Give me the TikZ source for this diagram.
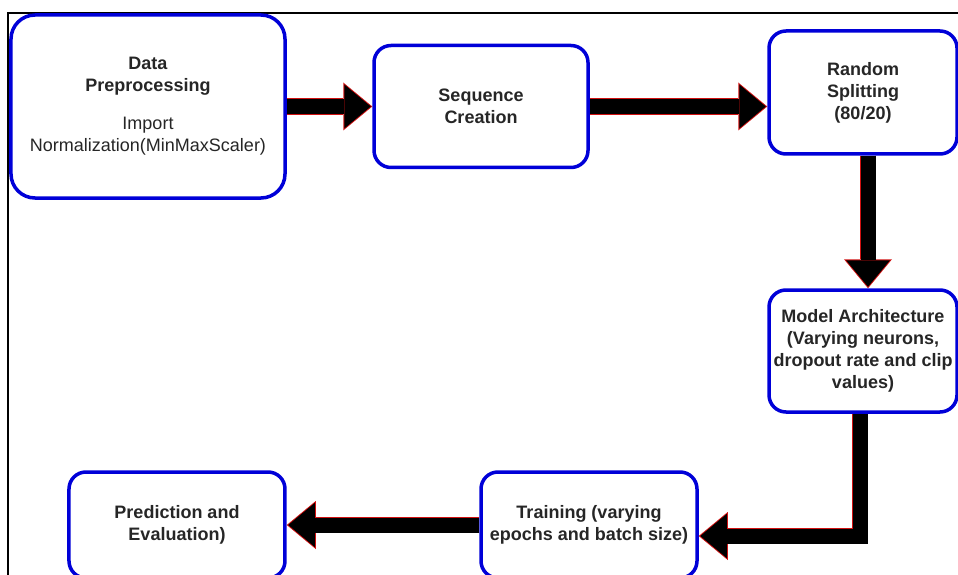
\documentclass[tikz,border=0pt]{standalone}
\usepackage{fontspec}
\setmainfont{Liberation Sans}
\usetikzlibrary{arrows.meta,positioning}
\definecolor{ink}{HTML}{262626}
\definecolor{stepblue}{HTML}{0000D8}
\definecolor{rimred}{HTML}{D01010}

\begin{document}
\begin{tikzpicture}[x=1bp, y=-1bp,
  box/.style={draw=stepblue, fill=white, line width=3.5bp, rounded corners=17bp, align=center, text=ink, inner sep=2bp, font=\fontsize{18bp}{22bp}\selectfont\bfseries},
  rimline/.style={draw=rimred, line width=16.5bp, line join=miter, -{Triangle[length=29bp,width=48bp,line width=0pt]}},
  coreline/.style={draw=black, line width=15bp, line join=miter, shorten >=1.5bp, -{Triangle[length=26.5bp,width=44bp,line width=0pt]}}]
  \useasboundingbox (0,0) rectangle (958,575);
  \clip (0,0) rectangle (958,575);
  \fill[white] (0,0) rectangle (958,575);
  \draw[line width=1.5bp] (8,13) rectangle (990,600);
  \node[box, rounded corners=24bp, minimum width=274bp, minimum height=183bp] (prep) at (148,106.5) {Data\\Preprocessing\\[16bp]{\mdseries Import}\\{\mdseries Normalization(MinMaxScaler)}};
  \node[box, minimum width=214bp, minimum height=122bp, right=85.5bp of prep] (seq) {Sequence\\Creation};
  \node[box, minimum width=188bp, minimum height=123bp] (split) at (863,92.5) {Random\\Splitting\\(80/20)};
  \node[box, minimum width=188bp, minimum height=122bp, below=132.5bp of split] (model) {Model Architecture\\(Varying neurons,\\dropout rate and clip\\values)};
  \node[box, minimum width=216bp, minimum height=106bp] (train) at (589,525) {Training (varying\\epochs and batch size)};
  \node[box, minimum width=216bp, minimum height=106bp, left=192.5bp of train] (pred) {Prediction and\\Evaluation)};
  % fat arrows: red rim first, black core on top
  \foreach \lay in {rimline,coreline}{
    \draw[\lay] (prep.east) -- (prep.east -| seq.west);
    \draw[\lay] (seq.east) -- (seq.east -| split.west);
    \draw[\lay] ([xshift=5bp]split.south) -- ([xshift=5bp]model.north);
    \draw[\lay] ([xshift=-3bp]model.south) |- ([yshift=-11bp]train.east);
    \draw[\lay] (train.west) -- (pred.east);
  }
\end{tikzpicture}
\end{document}
